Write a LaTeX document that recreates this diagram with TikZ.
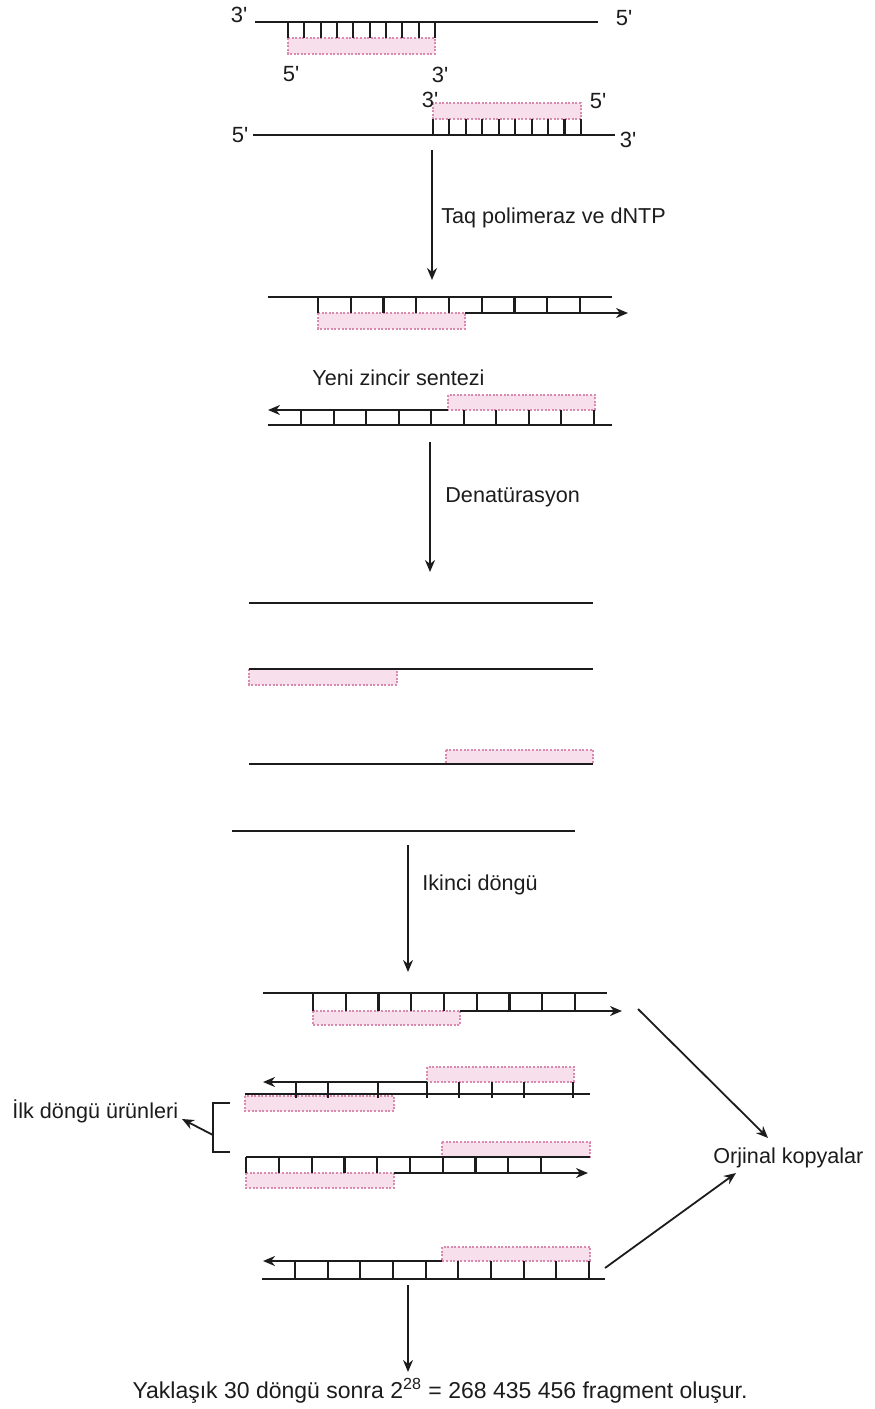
\documentclass[tikz,border=0pt]{standalone}
\usepackage{fontspec}
\newfontfamily\labelfont{Liberation Sans}
\usetikzlibrary{arrows.meta}
\definecolor{ink}{HTML}{1C1C1C}
\definecolor{primfill}{HTML}{F8DFEC}
\definecolor{primedge}{HTML}{D98AAE}

\begin{document}
\begin{tikzpicture}[x=0.5pt,y=-0.5pt,
  strand/.style={draw=ink,line width=1.2pt},
  rung/.style={draw=ink,line width=1.05pt},
  primer/.style={fill=primfill,draw=primedge,line width=0.6pt,dash pattern=on 1pt off 0.8pt},
  tipped/.style={-{Stealth[length=6pt,width=5pt]}},
  newstrand/.style={strand,tipped},
  flow/.style={draw=ink,line width=0.9pt,tipped},
  lbl/.style={font=\labelfont\fontsize{10.8}{13}\selectfont,text=ink,inner sep=0pt},
  endlbl/.style={lbl,font=\labelfont\fontsize{11}{13}\selectfont}
]
\useasboundingbox (0,0) rectangle (874,1409);

% ---------- template strands with annealed primers ----------
\path[primer] (288,38) rectangle (435,54);
\draw[strand] (255,22) -- (598,22);
\foreach \i in {0,...,9} \draw[rung] ({288+\i*16.33},22) -- ({288+\i*16.33},38);
\node[endlbl] (t1l) at (239,15) {3'};
\node[endlbl] (t1r) at (624,18) {5'};
\node[endlbl] (p1l) at (291,74) {5'};
\node[endlbl] (p1r) at (440,75) {3'};

\path[primer] (433,103) rectangle (581,119);
\draw[strand] (253,135) -- (615,135);
\foreach \i in {0,...,9} \draw[rung] ({433+\i*16.44},119) -- ({433+\i*16.44},135);
\node[endlbl] (t2l) at (240,135) {5'};
\node[endlbl] (t2r) at (628,140) {3'};
\node[endlbl] (p2l) at (430,100) {3'};
\node[endlbl] (p2r) at (598,101) {5'};

% step 1
\coordinate (s1a) at (432,150);
\coordinate (s1b) at (432,280);
\draw[flow] (s1a) -- (s1b);
\node[lbl,anchor=west] (taq) at (441,218) {Taq polimeraz ve dNTP};

% ---------- extension ----------
\path[primer] (318,313) rectangle (465,329);
\draw[strand] (268,297) -- (612,297);
\draw[newstrand] (465,313) -- (628,313);
\foreach \i in {0,...,8} \draw[rung] ({318+\i*32.75},297) -- ({318+\i*32.75},313);

\node[lbl,anchor=west] (yeni) at (312,378) {Yeni zincir sentezi};

\path[primer] (448,395) rectangle (595,410);
\draw[newstrand] (448,410) -- (268,410);
\draw[strand] (268,425) -- (612,425);
\foreach \i in {0,...,9} \draw[rung] ({301+\i*32.55},410) -- ({301+\i*32.55},425);

% step 2
\coordinate (s2a) at (430,442);
\coordinate (s2b) at (430,572);
\draw[flow] (s2a) -- (s2b);
\node[lbl,anchor=west] (denat) at (445,497) {Denatürasyon};

% ---------- separated single strands ----------
\path[primer] (249,669) rectangle (397,685);
\path[primer] (446,750) rectangle (593,764);
\draw[strand] (249,603) -- (593,603);
\draw[strand] (249,669) -- (593,669);
\draw[strand] (249,764) -- (593,764);
\draw[strand] (232,831) -- (575,831);

% step 3
\coordinate (s3a) at (408,845);
\coordinate (s3b) at (408,972);
\draw[flow] (s3a) -- (s3b);
\node[lbl,anchor=west] (ikinci) at (422,885) {Ikinci döngü};

% ---------- second cycle ----------
% row A
\path[primer] (313,1011) rectangle (460,1025);
\draw[strand] (263,993) -- (607,993);
\draw[newstrand] (460,1011) -- (622,1011);
\foreach \i in {0,...,8} \draw[rung] ({313+\i*32.75},993) -- ({313+\i*32.75},1011);

% row B
\path[primer] (427,1067) rectangle (574,1082);
\path[primer] (245,1096) rectangle (394,1111);
\draw[newstrand] (427,1082) -- (263,1082);
\draw[strand] (245,1094) -- (590,1094);
\foreach \x in {296,328,378,427,459,492,524,573} \draw[rung] (\x,1082) -- (\x,1098);

% row C
\path[primer] (442,1142) rectangle (590,1157);
\path[primer] (246,1173) rectangle (394,1188);
\draw[strand] (246,1157) -- (590,1157);
\draw[newstrand] (394,1173) -- (588,1173);
\draw[rung] (246,1157) -- (246,1173);
\foreach \i in {0,...,8} \draw[rung] ({279+\i*32.75},1157) -- ({279+\i*32.75},1173);

% bracket for first-cycle products
\draw[draw=ink,line width=0.9pt] (230,1103) -- (213,1103) -- (213,1152) -- (230,1152);
\coordinate (brk) at (213,1135);
\node[lbl,anchor=west] (ilk) at (12,1111) {İlk döngü ürünleri};
\coordinate (ilkend) at (182,1119);
\draw[flow] (brk) -- (ilkend);

% row D
\path[primer] (442,1247) rectangle (590,1261);
\draw[newstrand] (442,1261) -- (263,1261);
\draw[strand] (262,1279) -- (605,1279);
\foreach \i in {0,...,9} \draw[rung] ({295+\i*32.67},1261) -- ({295+\i*32.67},1279);

% original copies
\node[lbl,anchor=west] (orj) at (713,1158) {Orjinal kopyalar};
\coordinate (rowa) at (638,1009);
\coordinate (orjtop) at (768,1138);
\coordinate (rowd) at (605,1268);
\coordinate (orjbot) at (736,1173);
\draw[flow] (rowa) -- (orjtop);
\draw[flow] (rowd) -- (orjbot);

% step 4
\coordinate (s4a) at (408,1285);
\coordinate (s4b) at (408,1372);
\draw[flow] (s4a) -- (s4b);
\node[lbl,font=\labelfont\fontsize{11.5}{14}\selectfont] (result) at (440,1391)
  {Yaklaşık 30 döngü sonra 2\textsuperscript{28} = 268 435 456 fragment oluşur.};
\end{tikzpicture}
\end{document}
